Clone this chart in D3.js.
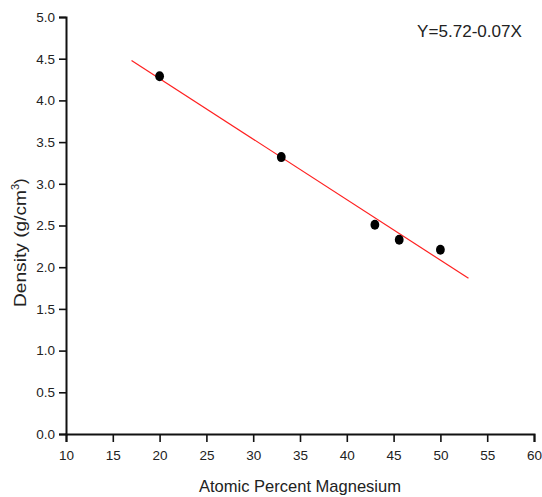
<!DOCTYPE html>
<html lang="en">
<head>
<meta charset="UTF-8">
<title>Density vs Mg</title>
<script src="https://cdn.jsdelivr.net/npm/d3@7"></script>
<style>
  body { margin: 0; background: #fff; }
  text { font-family: "Liberation Sans", Arial, sans-serif; fill: #222; }
</style>
</head>
<body>
<svg id="svg"></svg>
<script>
// measured points
var atomicPct = [20, 33, 43, 45.6, 50];
var density = [4.29, 3.32, 2.51, 2.33, 2.21];
// range covered by the fitted line
var fitRange = [17, 53];
var xTicks = [10, 15, 20, 25, 30, 35, 40, 45, 50, 55, 60];
var yTicks = [0, 0.5, 1, 1.5, 2, 2.5, 3, 3.5, 4, 4.5, 5];
var equation = "Y=5.72-0.07X";

var w = 542, h = 497;
var svg = d3.select("#svg").attr("width", w).attr("height", h);

var x = d3.scaleLinear().domain([10, 60]).range([66, 534]);
var y = d3.scaleLinear().domain([0, 5]).range([434, 17]);

// least squares fit from the points
var mx = d3.mean(atomicPct), my = d3.mean(density);
var sxy = d3.sum(atomicPct, function(d, i) { return (d - mx) * (density[i] - my); });
var sxx = d3.sum(atomicPct, function(d) { return (d - mx) * (d - mx); });
var slope = sxy / sxx, icpt = my - slope * mx;

// minor ticks
var xMinor = d3.range(12.5, 60, 5), yMinor = d3.range(0.25, 5, 0.5);

var gx = svg.append("g").attr("transform", "translate(0," + y(0) + ")");
gx.call(d3.axisBottom(x).tickValues(xMinor).tickSize(5).tickFormat(""));
gx.call(d3.axisBottom(x).tickValues(xTicks).tickSize(8).tickPadding(8).tickFormat(d3.format("d")));
var gy = svg.append("g").attr("transform", "translate(" + x(10) + ",0)");
gy.call(d3.axisLeft(y).tickValues(yMinor).tickSize(4).tickFormat(""));
gy.call(d3.axisLeft(y).tickValues(yTicks).tickSize(7).tickPadding(4).tickFormat(d3.format(".1f")));

svg.selectAll(".domain").attr("stroke", "#111").attr("stroke-width", 2);
svg.selectAll(".tick line").attr("stroke", "#111").attr("stroke-width", 1.6);
svg.selectAll(".tick text").attr("font-size", 13.5).attr("font-family", "Liberation Sans, Arial, sans-serif").attr("fill", "#222");

// fit line
svg.append("line")
  .attr("x1", x(fitRange[0])).attr("y1", y(icpt + slope * fitRange[0]))
  .attr("x2", x(fitRange[1])).attr("y2", y(icpt + slope * fitRange[1]))
  .attr("stroke", "#ff2020").attr("stroke-width", 1.2);

svg.selectAll(".pt")
  .data(atomicPct)
  .enter()
  .append("ellipse")
  .attr("cx", function(d) { return x(d); })
  .attr("cy", function(d, i) { return y(density[i]); })
  .attr("rx", 4.4).attr("ry", 5)
  .attr("fill", "#000");

svg.append("text")
  .attr("x", 199).attr("y", 492)
  .attr("font-size", 17)
  .attr("textLength", 202).attr("lengthAdjust", "spacingAndGlyphs")
  .text("Atomic Percent Magnesium");

var yl = svg.append("text")
  .attr("transform", "translate(26,307) rotate(-90)")
  .attr("font-size", 17);
yl.append("tspan").attr("textLength", 117).attr("lengthAdjust", "spacingAndGlyphs").text("Density (g/cm");
yl.append("tspan").attr("dy", -7).attr("font-size", 11).text("3");
yl.append("tspan").attr("dy", 7).text(")");

svg.append("text")
  .attr("x", 417).attr("y", 37)
  .attr("font-size", 17)
  .attr("textLength", 105).attr("lengthAdjust", "spacingAndGlyphs")
  .text(equation);
</script>
</body>
</html>
